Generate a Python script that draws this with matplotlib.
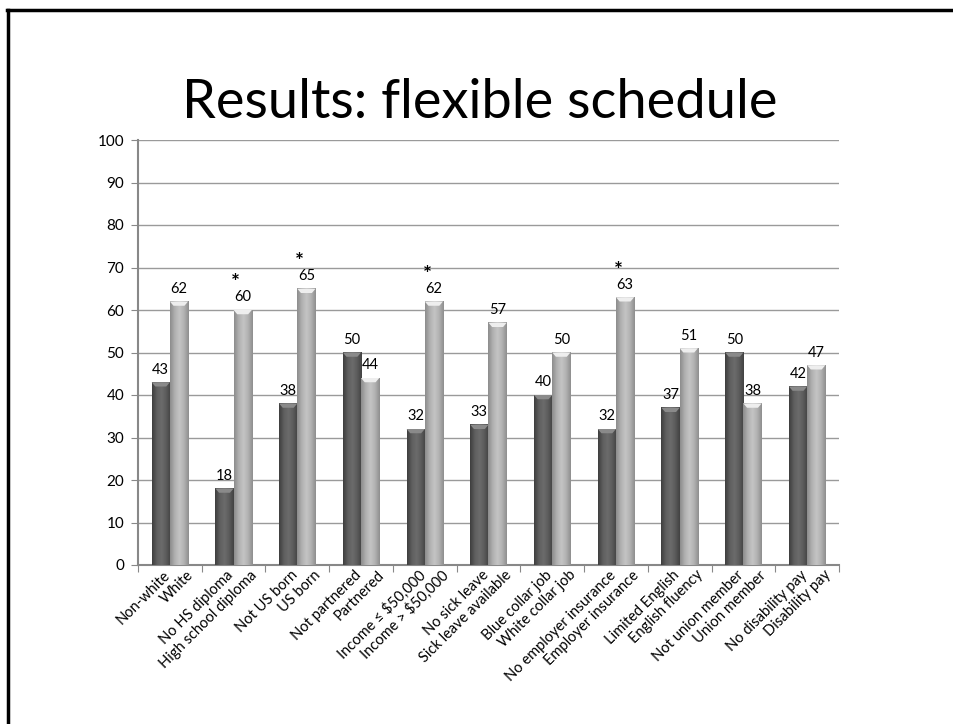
import numpy as np
import matplotlib.pyplot as plt
import matplotlib.transforms as mtransforms
from matplotlib.colors import LinearSegmentedColormap
from matplotlib.patches import Polygon
from matplotlib.lines import Line2D

plt.rcParams['font.family'] = ['Lato', 'DejaVu Sans']

# one dark/light pair per group
dark_labels = ["Non-white", "No HS diploma", "Not US born", "Not partnered",
               "Income \u2264 $50,000", "No sick leave", "Blue collar job",
               "No employer insurance", "Limited English", "Not union member",
               "No disability pay"]
light_labels = ["White", "High school diploma", "US born", "Partnered",
                "Income > $50,000", "Sick leave available", "White collar job",
                "Employer insurance", "English fluency", "Union member",
                "Disability pay"]
dark_vals = [43, 18, 38, 50, 32, 33, 40, 32, 37, 50, 42]
light_vals = [62, 60, 65, 44, 62, 57, 50, 63, 51, 38, 47]
significant = [False, True, True, False, True, False, False, True, False, False, False]

fig = plt.figure(figsize=(9.54, 7.24), dpi=100)

# slide frame (top and left edges)
fig.add_artist(Line2D([7/954, 1.0], [1 - 10/724, 1 - 10/724], color='black', lw=2.5))
fig.add_artist(Line2D([8/954, 8/954], [0, 1 - 10/724], color='black', lw=2.5))

fig.text(0.503, 1 - 102/724, "Results: flexible schedule", ha='center', va='center',
         fontsize=39, color='black')

ax = fig.add_axes([138/954, 1 - 565/724, 701/954, 425/724])

n = len(dark_vals)
bw = 1 / 3.5
x = np.arange(n)

dark_cmap = LinearSegmentedColormap.from_list('d', ['#3e3e3e', '#5e5e5e', '#6c6c6c', '#5c5c5c', '#424242'])
light_cmap = LinearSegmentedColormap.from_list('l', ['#8c8c8c', '#b0b0b0', '#c4c4c4', '#b2b2b2', '#8e8e8e'])
grad = np.linspace(0, 1, 64).reshape(1, -1)


def draw_bar(x0, h, cmap, cap):
    ax.imshow(grad, extent=[x0, x0 + bw, 0, h], cmap=cmap, aspect='auto',
              origin='lower', zorder=3, interpolation='bilinear')
    ax.add_patch(Polygon([[x0, h], [x0 + bw, h], [x0 + bw * 0.8, h - 1.0],
                          [x0 + bw * 0.2, h - 1.0]], closed=True,
                         facecolor=cap, edgecolor='none', zorder=4))


xaxis_tf = ax.get_xaxis_transform()


def bar_label(xc, text, dx_px):
    tf = xaxis_tf + mtransforms.ScaledTranslation(dx_px / 100, -3 / 100, fig.dpi_scale_trans)
    ax.text(xc, 0, text, transform=tf, rotation=45, ha='right', va='top',
            rotation_mode='anchor', fontsize=10.5, clip_on=False)


for i in range(n):
    xd = x[i] - bw
    xl = x[i]
    draw_bar(xd, dark_vals[i], dark_cmap, '#8a8a8a')
    draw_bar(xl, light_vals[i], light_cmap, '#eeeeee')
    ax.annotate(str(dark_vals[i]), (xd + bw / 2, dark_vals[i]), xytext=(0, 4),
                textcoords='offset points', ha='center', va='bottom', fontsize=10.5)
    ax.annotate(str(light_vals[i]), (xl + bw / 2, light_vals[i]), xytext=(0, 4),
                textcoords='offset points', ha='center', va='bottom', fontsize=10.5)
    if significant[i]:
        ax.annotate('*', (xl + bw / 2, light_vals[i]), xytext=(-5, 12),
                    textcoords='offset points', ha='center', va='bottom',
                    fontsize=15, fontweight='bold')
    bar_label(xd + bw / 2, dark_labels[i], 2)
    bar_label(xl + bw / 2, light_labels[i], 7)

ax.set_xlim(-0.5, n - 0.5)
ax.set_ylim(0, 100)
ax.set_yticks(range(0, 101, 10))
ax.yaxis.grid(True, color='#9a9a9a', lw=1)
ax.set_axisbelow(True)

ax.set_xticks(np.arange(-0.5, n, 1))
ax.set_xticklabels([])
ax.tick_params(axis='x', length=5, color='#888888')
ax.tick_params(axis='y', length=5, color='#888888', labelsize=11, pad=5)

for s in ['top', 'right']:
    ax.spines[s].set_visible(False)
for s in ['left', 'bottom']:
    ax.spines[s].set_color('#888888')
    ax.spines[s].set_linewidth(1.5)

fig.savefig('out.png', dpi=100)
